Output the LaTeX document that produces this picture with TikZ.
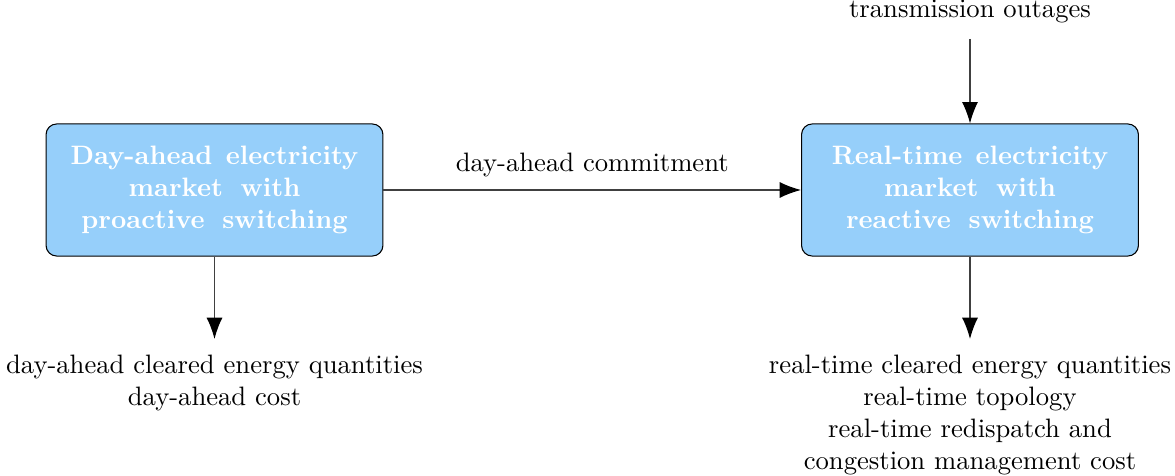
\documentclass[tikz,border=0pt]{standalone}
\usetikzlibrary{arrows.meta}
\definecolor{marketblue}{RGB}{150,207,250}
\begin{document}
\begin{tikzpicture}[x=0.3755pt,y=-0.3755pt,
  market/.style={draw=black, fill=marketblue, rounded corners=4pt,
    minimum width=126.5pt, minimum height=49.6pt, text width=118pt,
    align=center, font=\bfseries, text=white, inner sep=0pt},
  outtext/.style={align=center, inner sep=6pt, anchor=north},
  flow/.style={draw=black!75, line width=0.45pt,
    -{Latex[length=8pt,width=6pt,black]}}]
\useasboundingbox (0,0) rectangle (1175,476);

% the two market stages
\node[market] (da) at (214.5,190) {Day-ahead\ \,electricity\\market\ \ with\\proactive\ \ switching};
\node[market] (rt) at (970,190) {Real-time\ \,electricity\\market\ \ with\\reactive\ \ switching};

% external input and outputs
\node[anchor=base, inner sep=5.6pt] (outage) at (970,18) {transmission outages};
\node[outtext] (daout) at (214.5,339) {day-ahead cleared energy quantities\\day-ahead cost};
\node[outtext] (rtout) at (970,339) {real-time cleared energy quantities\\real-time topology\\real-time redispatch and\\congestion management cost};

% connectors
\draw[flow] (da) -- node[above=1.5pt] {day-ahead commitment} (rt);
\draw[flow] (outage) -- (rt);
\draw[flow] (da) -- (daout);
\draw[flow] (rt) -- (rtout);
\end{tikzpicture}
\end{document}
